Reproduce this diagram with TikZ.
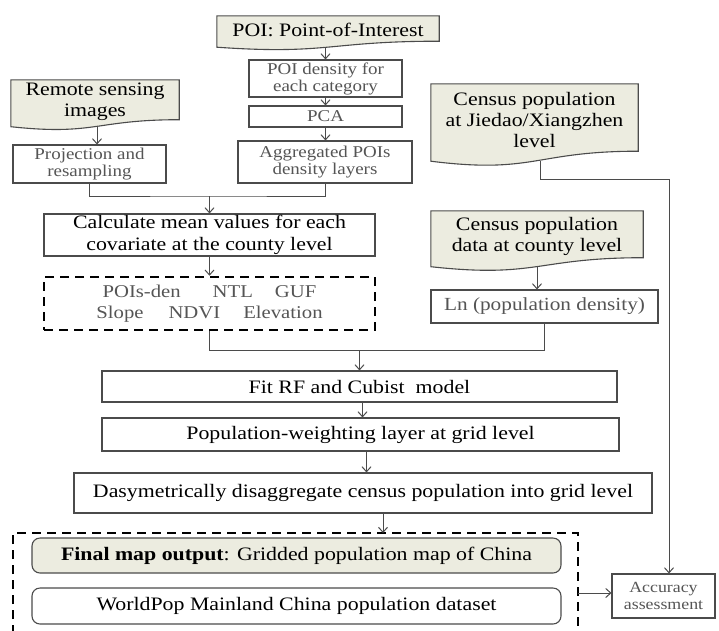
\documentclass[tikz,border=0pt]{standalone}
\usepackage{fontspec}
\setmainfont{Liberation Serif}[FakeStretch=1.15]
\usetikzlibrary{arrows.meta,backgrounds}

\definecolor{boxline}{RGB}{75,75,75}
\definecolor{docfill}{RGB}{236,236,224}
\definecolor{greytext}{RGB}{85,85,85}

\tikzset{
  box/.style={draw=boxline,line width=1.1pt,fill=white,align=center,inner sep=0pt,
    font=\fontsize{19}{22.5}\selectfont},
  greybox/.style={box,text=greytext,font=\fontsize{16.5}{17}\selectfont},
  roundbox/.style={box,rounded corners=8pt},
  docnode/.style={align=center,inner sep=0pt,font=\fontsize{19}{21}\selectfont},
  docline/.style={draw=boxline,line width=1.1pt,fill=docfill},
  dashbox/.style={draw=black,line width=2.6pt,dash pattern=on 9pt off 6pt},
  link/.style={draw=boxline,line width=1pt},
  arrow/.style={link,-{Straight Barb[length=5pt,width=9pt]}}
}

% document shape with a wavy bottom edge behind node #1
\newcommand{\docshape}[2]{%
  \begin{scope}[on background layer]
    \draw[docline] (#1.north west) -- (#1.north east) -- ([yshift=#2]#1.south east)
      .. controls ([yshift=#2]#1.south) and ([yshift=-3.6*#2]#1.south) ..
      ([yshift=-#2]#1.south west) -- cycle;
  \end{scope}}

\begin{document}
\begin{tikzpicture}[x=1pt,y=-1pt]
     \useasboundingbox (0,0) rectangle (719,630);

     %Inputs
     \node[docnode, minimum width=222, minimum height=28] (poi) at (328,30) {POI: Point-of-Interest};
     \node[docnode, minimum width=168, minimum height=43] (remote) at (95,101.5) {Remote sensing\\images};
     \node[docnode, minimum width=207, minimum height=72] (jiedao) at (534.5,120) {Census population\\at Jiedao/Xiangzhen\\level};
     \node[docnode, minimum width=212, minimum height=51] (county) at (537,236.5) {Census population\\data at county level};
     \docshape{poi}{3pt}
     \docshape{remote}{3.5pt}
     \docshape{jiedao}{5pt}
     \docshape{county}{4.5pt}

     %POI branch
     \node[greybox, minimum width=153, minimum height=37] (poiden) at (325.5,78.5) {POI density for\\each category};
     \node[greybox, minimum width=153, minimum height=21] (pca) at (325.5,116.5) {PCA};
     \node[greybox, minimum width=174, minimum height=42] (aggr) at (325,162) {Aggregated POIs\\density layers};
     \draw[arrow] ([yshift=-3pt]poi.south -| poiden.north) -- (poiden.north);
     \draw[arrow] (poiden.south) -- (pca.north);
     \draw[arrow] (pca.south) -- (pca.south |- aggr.north);

     %Remote sensing branch
     \node[greybox, minimum width=153, minimum height=38] (proj) at (89.5,164) {Projection and\\resampling};
     \draw[arrow] ([xshift=2pt,yshift=-3.5pt]remote.south) -- ([xshift=2pt]remote.south |- proj.north);

     %Covariates
     \coordinate (jtop) at (209.5,196);
     \node[box, minimum width=331, minimum height=42] (calc) at (209.5,235) {Calculate mean values for each\\covariate at the county level};
     \node[dashbox, align=center, inner sep=0pt, text=greytext, font=\fontsize{18}{20.7}\selectfont,
           minimum width=331, minimum height=53] (covar) at (209.5,303.5)
           {POIs-den\hspace{32pt}NTL\hspace{22pt}GUF\\Slope\hspace{25pt}NDVI\hspace{23pt}Elevation};
     \draw[link] (proj.south) |- (jtop) -| (aggr.south);
     \draw[arrow] (jtop) -- (calc.north);
     \draw[arrow] (calc.south) -- (covar.north);

     %Census at county level
     \node[box, text=greytext, font=\fontsize{18.5}{20}\selectfont, minimum width=227, minimum height=33] (ln) at (544.5,306.5) {Ln (population density)};
     \draw[arrow] ([yshift=-4.5pt]county.south) -- (county.south |- ln.north);

     %Model
     \coordinate (jmid) at (359.5,350);
     \node[box, minimum width=515, minimum height=31] (fit) at (359.5,386.5) {Fit RF and Cubist\ \ model};
     \node[box, minimum width=517, minimum height=33] (weight) at (360.5,434.5) {Population-weighting layer at grid level};
     \node[box, minimum width=578, minimum height=40] (dasy) at (363,493) {Dasymetrically disaggregate census population into grid level};
     \draw[link] (covar.south) |- (jmid) -| (ln.south);
     \draw[arrow] (jmid) -- (fit.north);
     \draw[arrow] ([xshift=3pt]fit.south) -- ([xshift=3pt]fit.south |- weight.north);
     \draw[arrow] ([xshift=6pt]weight.south) -- ([xshift=6pt]weight.south |- dasy.north);

     %Outputs
     \coordinate (grptop) at (383,533);
     \coordinate (grpedge) at (578,593);
     \draw[dashbox] (13,634) -- (13,533) -- (578,533) -- (578,634);
     \node[roundbox, fill=docfill, minimum width=529, minimum height=35] (final) at (296.5,555.5)
           {\textbf{Final map output}: Gridded population map of China};
     \node[roundbox, minimum width=529, minimum height=36] (worldpop) at (296.5,606)
           {WorldPop Mainland China population dataset};
     \draw[arrow] ([xshift=20pt]dasy.south) -- (grptop);

     %Accuracy assessment
     \coordinate (jturn) at (669,179);
     \node[box, text=greytext, font=\fontsize{15.5}{17}\selectfont, minimum width=103, minimum height=44] (acc) at (663.5,596) {Accuracy\\assessment};
     \draw[arrow] ([xshift=5.5pt,yshift=-5pt]jiedao.south) |- (jturn) -- (jturn |- acc.north);
     \draw[arrow] (grpedge) -- (grpedge -| acc.west);

\end{tikzpicture}
\end{document}
